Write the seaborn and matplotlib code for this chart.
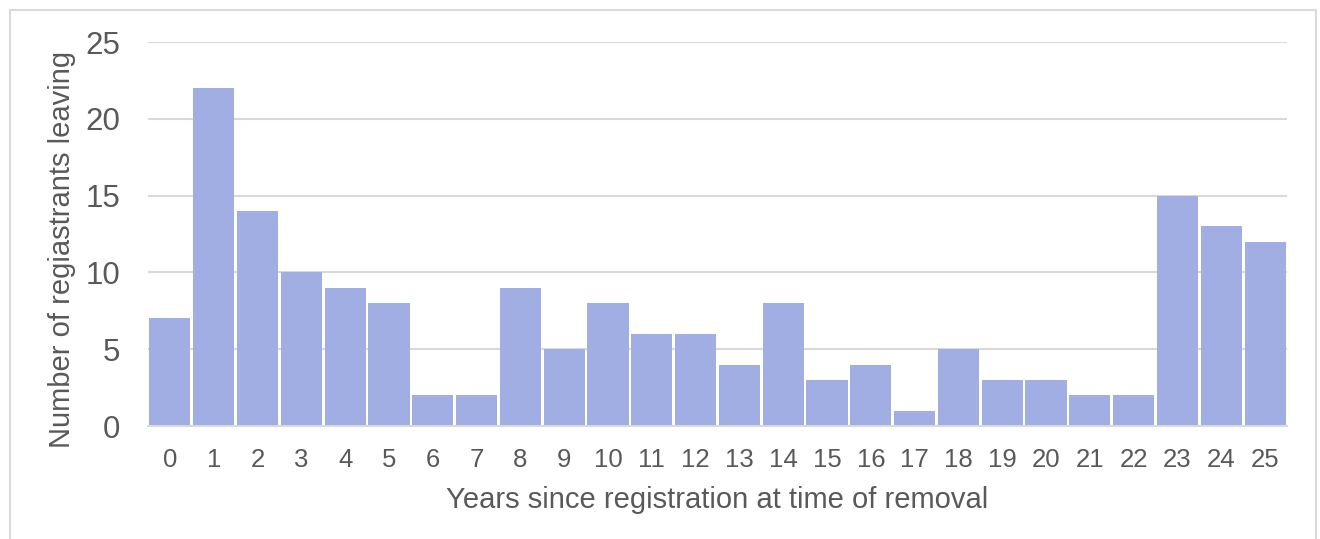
import matplotlib
matplotlib.use("Agg")
import matplotlib.pyplot as plt
from matplotlib.patches import Rectangle
import seaborn as sns
import pandas as pd

years = list(range(26))
leaving = [7, 22, 14, 10, 9, 8, 2, 2, 9, 5, 8, 6, 6, 4, 8, 3, 4, 1, 5, 3, 3, 2, 2, 15, 13, 12]
y_ticks = [0, 5, 10, 15, 20, 25]

bar_color = "#A0AEE4"
text_color = "#595959"
grid_color = "#D9D9D9"

sns.set_theme(style="white")
plt.rcParams["font.family"] = ["Liberation Sans", "DejaVu Sans"]

df = pd.DataFrame({"year": [str(y) for y in years], "count": leaving})

fig = plt.figure(figsize=(13.2, 5.39), dpi=100)
ax = fig.add_axes([148 / 1320, 1 - 426 / 539, (1287 - 148) / 1320, (426 - 42) / 539])

sns.barplot(data=df, x="year", y="count", color=bar_color, saturation=1,
            width=0.94, ax=ax, edgecolor="none")

ax.set_ylim(0, 25)
ax.set_xlim(-0.5, len(years) - 0.5)
ax.set_yticks(y_ticks)
ax.yaxis.grid(True, color=grid_color, linewidth=1.5)
ax.set_axisbelow(True)
for side in ["top", "right", "left"]:
    ax.spines[side].set_visible(False)
ax.spines["bottom"].set_color(grid_color)
ax.spines["bottom"].set_linewidth(1.5)
ax.tick_params(axis="both", length=0, colors=text_color)
ax.tick_params(axis="y", labelsize=22.5, pad=20)
ax.tick_params(axis="x", labelsize=18.5, pad=16)

ax.set_xlabel("Years since registration at time of removal", fontsize=21,
              color=text_color, labelpad=10)
ax.set_ylabel("Number of regiastrants leaving", fontsize=21,
              color=text_color, labelpad=7)
ax.yaxis.label.set_y(0.46)

# outer frame around the chart area
fig.patches.append(Rectangle((10 / 1320, -0.05), 1306 / 1320, 1.05 - 10 / 539,
                             transform=fig.transFigure, fill=False,
                             edgecolor="#D9D9D9", linewidth=1.5))

fig.savefig("out.png", dpi=100, facecolor="white")
